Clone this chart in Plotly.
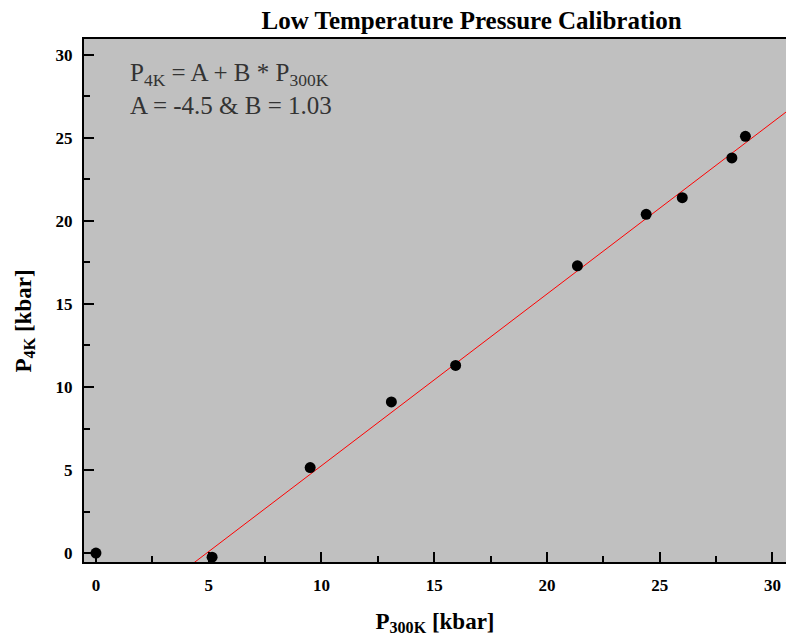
import numpy as np
import plotly.graph_objects as go

p_300k = [0.0, 5.15, 9.5, 13.1, 15.95, 21.35, 24.4, 26.0, 28.2, 28.8]
p_4k = [0.0, -0.25, 5.15, 9.1, 11.3, 17.3, 20.4, 21.4, 23.8, 25.1]

# linear fit line as drawn in the reference
A_FIT, B_FIT = -5.08, 1.034
X_RANGE = [-0.53, 30.6]
Y_RANGE = [-0.54, 30.96]

SERIF = "Liberation Serif, DejaVu Serif, serif"

fit_x = np.array(X_RANGE)
fit_y = A_FIT + B_FIT * fit_x

fig = go.Figure()
fig.add_trace(go.Scatter(x=fit_x, y=fit_y, mode="lines",
                         line=dict(color="#ff0000", width=1),
                         hoverinfo="skip", showlegend=False))
fig.add_trace(go.Scatter(x=p_300k, y=p_4k, mode="markers",
                         marker=dict(size=11, color="black"),
                         showlegend=False, cliponaxis=False,
                         hovertemplate="P300K = %{x}<br>P4K = %{y}<extra></extra>"))

fig.add_annotation(xref="paper", yref="paper", x=0.063, y=0.966,
                   xanchor="left", yanchor="top", align="left", showarrow=False,
                   text="P<sub>4K</sub> = A + B * P<sub>300K</sub><br>A = -4.5 & B = 1.03",
                   font=dict(family=SERIF, size=25, color="#333333"))

# y-axis title as an annotation: it sits a little below the plot centre
fig.add_annotation(xref="paper", yref="paper", x=-0.084, y=0.46,
                   xanchor="center", yanchor="middle", textangle=-90, showarrow=False,
                   text="<b>P<sub>4K</sub> [kbar]</b>",
                   font=dict(family=SERIF, size=23, color="black"))

axis_common = dict(showgrid=False, zeroline=False, showline=True, automargin=False,
                   linecolor="black", linewidth=2,
                   ticks="inside", ticklen=10, tickwidth=2, tickcolor="black",
                   dtick=5, tick0=0,
                   minor=dict(ticks="inside", ticklen=6, tickwidth=2,
                              tickcolor="black", dtick=2.5),
                   tickfont=dict(family=SERIF, size=17, color="black", weight="bold"))

fig.update_xaxes(range=X_RANGE, mirror=True, ticklabelstandoff=7,
                 title=dict(text="<b>P<sub>300K</sub> [kbar]</b>", standoff=18,
                            font=dict(family=SERIF, size=23, color="black")),
                 **axis_common)
fig.update_yaxes(range=Y_RANGE, ticklabelstandoff=6, **axis_common)

fig.update_layout(width=786, height=641,
                  margin=dict(l=84, r=0, t=39, b=79),
                  paper_bgcolor="white", plot_bgcolor="#c0c0c0",
                  title=dict(text="<b>Low Temperature Pressure Calibration</b>",
                             x=0.6, xanchor="center", y=0.969, yanchor="middle",
                             font=dict(family=SERIF, size=25, color="black")))

# drop the default body margin so the figure fills the window exactly
fig.write_html("out.html", config={"displayModeBar": False},
               post_script="document.body.style.margin='0';"
                           "document.documentElement.style.overflow='hidden';")
